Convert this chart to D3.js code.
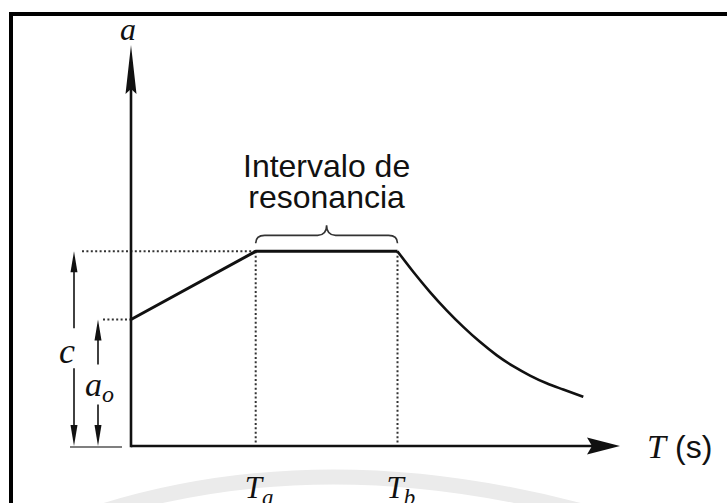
<!DOCTYPE html>
<html>
<head>
<meta charset="utf-8">
<script src="https://cdn.jsdelivr.net/npm/d3@7"></script>
<style>
  html, body { margin: 0; padding: 0; background: #fff; }
  svg { display: block; }
  .serif { font-family: "Liberation Serif", "DejaVu Serif", serif; font-style: italic; }
  .sans { font-family: "Liberation Sans", Arial, sans-serif; }
</style>
</head>
<body>
<svg id="chart" width="727" height="503"></svg>
<script>
// Design response spectrum: ramp from a0 up to c, plateau over the resonance interval, then decay.
const periodRange = [0, 2.0];          // T (s), horizontal extent of the axis
const accelRange = [0, 2.06];          // a, vertical extent of the axis
const Ta = 0.51;
const Tb = 1.09;
const a0 = 0.65;
const c = 1.0;

const rampT = [0, Ta, Tb];
const rampA = [a0, c, c];

const decayT = [1.09, 1.155, 1.223, 1.291, 1.359, 1.427, 1.495, 1.563, 1.632, 1.70, 1.768, 1.85];
const decayA = [1.0, 0.894, 0.791, 0.697, 0.612, 0.535, 0.467, 0.410, 0.362, 0.322, 0.290, 0.253];

const tickLabels = [{v: Ta, sub: "a"}, {v: Tb, sub: "b"}];
const bandText = ["Intervalo de", "resonancia"];

const svg = d3.select("#chart");
const x = d3.scaleLinear().domain(periodRange).range([131, 620]);
const y = d3.scaleLinear().domain(accelRange).range([446, 45]);

const ink = "#111";

// faint background watermark band
svg.append("path")
  .attr("d", "M100,512 Q330,440 600,516")
  .attr("fill", "none").attr("stroke", "#ebebeb").attr("stroke-width", 15);

// frame (top and left edges)
svg.append("line").attr("x1", 9).attr("x2", 727).attr("y1", 14).attr("y2", 14)
  .attr("stroke", "#000").attr("stroke-width", 4);
svg.append("line").attr("x1", 11).attr("x2", 11).attr("y1", 12).attr("y2", 503)
  .attr("stroke", "#000").attr("stroke-width", 4);

// dotted guides
const dotted = svg.append("g").attr("stroke", "#333").attr("stroke-width", 2)
  .attr("stroke-dasharray", "2,2.4").attr("fill", "none");
dotted.append("line").attr("x1", x(0) - 49).attr("x2", x(Ta)).attr("y1", y(c)).attr("y2", y(c));
dotted.append("line").attr("x1", x(0) - 28).attr("x2", x(0)).attr("y1", y(a0)).attr("y2", y(a0));
[Ta, Tb].forEach(t => {
  dotted.append("line").attr("x1", x(t)).attr("x2", x(t)).attr("y1", y(c)).attr("y2", y(0));
});

// axes with arrowheads
svg.append("line").attr("x1", x(0)).attr("x2", x(periodRange[1]) - 20)
  .attr("y1", y(0)).attr("y2", y(0)).attr("stroke", ink).attr("stroke-width", 2.6);
svg.append("line").attr("x1", x(0)).attr("x2", x(0))
  .attr("y1", y(0) + 1.3).attr("y2", y(accelRange[1]) + 30).attr("stroke", ink).attr("stroke-width", 2.6);
const xt = x(periodRange[1]), y0 = y(0);
svg.append("path").attr("fill", ink)
  .attr("d", `M${xt},${y0} L${xt - 33},${y0 - 8.5} L${xt - 28},${y0} L${xt - 33},${y0 + 8.5} Z`);
const yt = y(accelRange[1]), x0 = x(0);
svg.append("path").attr("fill", ink)
  .attr("d", `M${x0},${yt} L${x0 - 5.5},${yt + 49} L${x0},${yt + 44} L${x0 + 5.5},${yt + 49} Z`);

// spectrum
svg.append("path")
  .datum(rampT.map((t, i) => [t, rampA[i]]))
  .attr("fill", "none").attr("stroke", ink).attr("stroke-width", 3)
  .attr("stroke-linejoin", "round")
  .attr("d", d3.line().x(d => x(d[0])).y(d => y(d[1])));
svg.append("path")
  .datum(decayT.map((t, i) => [t, decayA[i]]))
  .attr("fill", "none").attr("stroke", ink).attr("stroke-width", 2.6)
  .attr("d", d3.line().x(d => x(d[0])).y(d => y(d[1])).curve(d3.curveMonotoneX));

// dimension arrows for c and a0
function dimArrow(xp, top, gapTop, gapBottom) {
  const g = svg.append("g");
  const bottom = y(0);
  g.append("line").attr("x1", xp).attr("x2", xp).attr("y1", top + 12).attr("y2", gapTop)
    .attr("stroke", ink).attr("stroke-width", 1.6);
  g.append("line").attr("x1", xp).attr("x2", xp).attr("y1", gapBottom).attr("y2", bottom - 12)
    .attr("stroke", ink).attr("stroke-width", 1.6);
  g.append("path").attr("fill", ink)
    .attr("d", `M${xp},${top} L${xp - 3.5},${top + 21} L${xp + 3.5},${top + 21} Z`);
  g.append("path").attr("fill", ink)
    .attr("d", `M${xp},${bottom} L${xp - 3.5},${bottom - 21} L${xp + 3.5},${bottom - 21} Z`);
}
dimArrow(x(0) - 57, y(c), y(c) + 77, y(c) + 117);
dimArrow(x(0) - 33, y(a0), y(a0) + 45, y(a0) + 85);
svg.append("line").attr("x1", x(0) - 61).attr("x2", x(0) - 9)
  .attr("y1", y(0) + 1).attr("y2", y(0) + 1).attr("stroke", "#555").attr("stroke-width", 1.5);

// dimension labels
svg.append("text").attr("class", "serif").attr("x", x(0) - 64).attr("y", y(c) + 112)
  .attr("text-anchor", "middle").attr("font-size", 36).attr("fill", ink).text("c");
const aoLab = svg.append("text").attr("class", "serif").attr("x", x(0) - 46).attr("y", y(a0) + 77)
  .attr("font-size", 34).attr("fill", ink);
aoLab.append("tspan").text("a");
aoLab.append("tspan").attr("font-size", 24).attr("dy", 6).text("o");

// axis titles
svg.append("text").attr("class", "serif").attr("x", x(0) - 3).attr("y", 40)
  .attr("text-anchor", "middle").attr("font-size", 32).attr("fill", ink).text("a");
svg.append("text").attr("class", "serif").attr("x", 647).attr("y", y(0) + 12)
  .attr("font-size", 34).attr("fill", ink).text("T");
svg.append("text").attr("class", "sans").attr("x", 675).attr("y", y(0) + 12)
  .attr("font-size", 32).attr("fill", ink).text("(s)");

// period labels under the axis
tickLabels.forEach(d => {
  const t = svg.append("text").attr("class", "serif").attr("x", x(d.v) - 11).attr("y", 498)
    .attr("font-size", 31).attr("fill", ink);
  t.append("tspan").text("T");
  t.append("tspan").attr("font-size", 23).attr("dy", 7).text(d.sub);
});

// resonance interval brace and two-line caption
const bx1 = x(Ta), bx2 = x(Tb), bm = (bx1 + bx2) / 2, by = y(c) - 16;
svg.append("path").attr("fill", "none").attr("stroke", "#333").attr("stroke-width", 1.6)
  .attr("d", `M${bx1},${by + 8} Q${bx1},${by} ${bx1 + 9},${by} L${bm - 9},${by} Q${bm},${by} ${bm},${by - 10}` +
             ` Q${bm},${by} ${bm + 9},${by} L${bx2 - 9},${by} Q${bx2},${by} ${bx2},${by + 8}`);
const caption = svg.append("text").attr("class", "sans").attr("x", bm).attr("y", 177)
  .attr("text-anchor", "middle").attr("font-size", 32).attr("fill", ink);
caption.selectAll("tspan").data(bandText).join("tspan")
  .attr("x", bm).attr("dy", (d, i) => i === 0 ? 0 : 31).text(d => d);
</script>
</body>
</html>
